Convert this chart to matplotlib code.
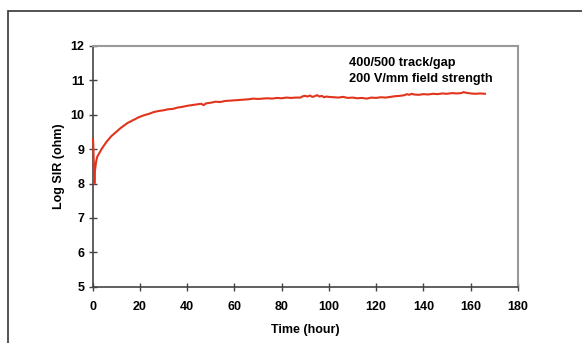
import matplotlib
matplotlib.use("Agg")
import matplotlib.pyplot as plt
from matplotlib.patches import Rectangle

plt.rcParams['font.family'] = ['Liberation Sans', 'DejaVu Sans']

time_h = [0.2, 0.4, 0.6, 0.8, 1.0, 1.5, 2, 3, 4, 5, 6, 7, 8, 9, 10, 11, 12, 13, 14,
          15, 16, 17, 18, 19, 20, 22, 24, 26, 28, 30, 32, 34, 36, 38, 40, 42, 44, 46, 47,
          48, 50, 52, 54, 56, 58, 60, 62, 64, 66, 68, 70, 72, 74, 76, 78, 80, 82, 84, 86,
          88, 89, 90, 91, 92, 93, 94, 95, 96, 97, 98, 99, 100, 102, 104, 106, 108, 110, 112, 114,
          116, 118, 120, 122, 124, 126, 128, 130, 132, 133, 134, 135, 136, 138, 140, 142, 144, 146, 148, 150,
          152, 154, 156, 157, 158, 160, 162, 164, 166]
log_sir = [9.3, 9.0, 8.4, 8.0, 8.35, 8.63, 8.78, 8.9, 9.02, 9.12, 9.22, 9.3, 9.38, 9.44, 9.5, 9.56, 9.62, 9.67, 9.72,
           9.77, 9.8, 9.84, 9.87, 9.91, 9.94, 9.99, 10.03, 10.08, 10.11, 10.13, 10.16, 10.17, 10.21, 10.23, 10.26, 10.28, 10.3, 10.32, 10.28,
           10.33, 10.35, 10.38, 10.37, 10.4, 10.41, 10.42, 10.43, 10.44, 10.45, 10.47, 10.46, 10.47, 10.48, 10.47, 10.49, 10.48, 10.5, 10.49, 10.5,
           10.5, 10.54, 10.55, 10.53, 10.56, 10.52, 10.54, 10.57, 10.53, 10.55, 10.51, 10.53, 10.52, 10.51, 10.5, 10.52, 10.49, 10.5, 10.48, 10.49,
           10.47, 10.5, 10.49, 10.51, 10.5, 10.52, 10.54, 10.55, 10.57, 10.6, 10.58, 10.61, 10.59, 10.58, 10.6, 10.59, 10.61, 10.6, 10.62, 10.61,
           10.63, 10.62, 10.63, 10.66, 10.64, 10.62, 10.61, 10.62, 10.61]

x_ticks = [0, 20, 40, 60, 80, 100, 120, 140, 160, 180]
y_ticks = [5, 6, 7, 8, 9, 10, 11, 12]
annotation = "400/500 track/gap\n200 V/mm field strength"

fig = plt.figure(figsize=(5.82, 3.43), dpi=100)
fig.patch.set_facecolor('white')

# outer frame (extends beyond right/bottom edges)
fig.add_artist(Rectangle((8 / 582, -0.1), 1.2, 1 - 11 / 343 + 0.1,
                         transform=fig.transFigure, fill=False,
                         edgecolor='#444444', linewidth=1.3))

ax = fig.add_axes([92.5 / 582, 1 - 286.7 / 343, (518 - 92.5) / 582, (286.7 - 46) / 343])
ax.plot(time_h, log_sir, color='#e2341c', linewidth=1.5, zorder=3, clip_on=False)

ax.set_xlim(0, 180)
ax.set_ylim(5, 12)
ax.set_xticks(x_ticks)
ax.set_yticks(y_ticks)
for lab in ax.get_xticklabels() + ax.get_yticklabels():
    lab.set_fontweight('bold')
    lab.set_fontsize(9)
ax.tick_params(direction='inout', length=6, width=1.0, color='#444444', pad=3)
ax.tick_params(axis='x', pad=7)

for side in ['left', 'bottom']:
    ax.spines[side].set_color('#444444')
    ax.spines[side].set_linewidth(1.2)
for side in ['top', 'right']:
    ax.spines[side].set_color('#999999')
    ax.spines[side].set_linewidth(1.5)

ax.set_xlabel('Time (hour)', fontsize=9, fontweight='bold', labelpad=8)
ax.set_ylabel('Log SIR (ohm)', fontsize=9, fontweight='bold', labelpad=4)

ax.text(108.5, 11.27, annotation, fontsize=9.2, fontweight='bold', va='center',
        ha='left', linespacing=1.45)

fig.savefig('out.png', dpi=100)
